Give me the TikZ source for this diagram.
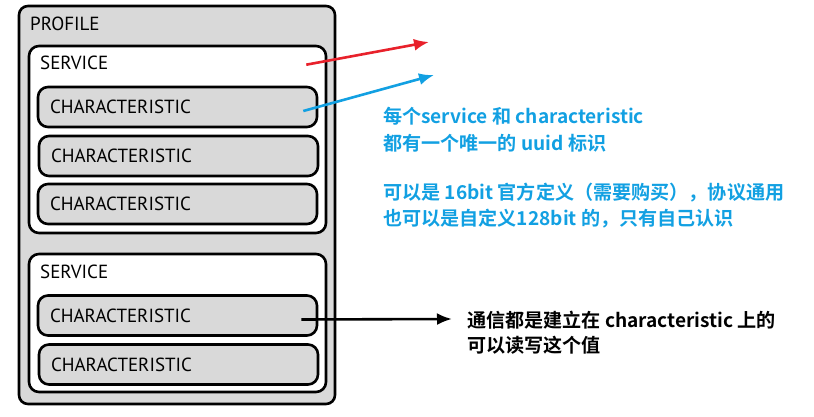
\documentclass[tikz,border=0pt]{standalone}
\usepackage{fontspec}
\setmainfont{PT Sans}
\newfontfamily\cjk{Noto Sans CJK SC}[BoldFont={* Bold}]
\usetikzlibrary{arrows.meta}

\definecolor{boxgray}{HTML}{D9D9D9}
\definecolor{arrowred}{HTML}{E8212B}
\definecolor{noteblue}{HTML}{12A0E2}

\tikzstyle{profilebox} = [
	draw = black,
	fill = boxgray,
	line width = 2.6pt,
	rounded corners = 9pt,
	minimum width = 316pt,
	minimum height = 398pt
	]
\tikzstyle{servicebox} = [
	draw = black,
	fill = white,
	line width = 2.6pt,
	rounded corners = 10pt,
	minimum width = 297pt
	]
\tikzstyle{charbox} = [
	draw = black,
	fill = boxgray,
	line width = 2.6pt,
	rounded corners = 10pt,
	minimum height = 40pt,
	text width = 255pt,
	inner xsep = 12pt,
	align = left
	]
\tikzstyle{note} = [
	anchor = base west,
	inner sep = 0pt,
	font = \cjk\bfseries\fontsize{19.1}{23}\selectfont
	]

\begin{document}
\begin{tikzpicture}[
	x = 1pt, y = -1pt,
	every node/.style = {
	font = \fontsize{19}{22}\selectfont
	},
	every edge/.style = {
	->, >=latex
	}
	]
		\useasboundingbox (0,0) rectangle (814,417);

		\node[profilebox] (profile) at (177,205) {};
		\node[anchor=base west, inner sep=0pt] (profileL) at (30,31) {PROFILE};

		\node[servicebox, minimum height=187pt] (svcA) at (177.5,139.5) {};
		\node[anchor=base west, inner sep=0pt] (svcAL) at (40,70) {SERVICE};
		\node[charbox] (chA1) at (177.5,107) {CHARACTERISTIC};
		\node[charbox] (chA2) at (178.5,156) {CHARACTERISTIC};
		\node[charbox] (chA3) at (177.5,204) {CHARACTERISTIC};

		\node[servicebox, minimum height=138pt] (svcB) at (177.5,323) {};
		\node[anchor=base west, inner sep=0pt] (svcBL) at (40,278) {SERVICE};
		\node[charbox] (chB1) at (177.5,315.5) {CHARACTERISTIC};
		\node[charbox] (chB2) at (178.5,364.5) {CHARACTERISTIC};

		\node[note, text=noteblue] (uuidA) at (383,124) {每个service 和 characteristic};
		\node[note, text=noteblue] (uuidB) at (383,150) {都有一个唯一的 uuid 标识};
		\node[note, text=noteblue] (bitA) at (383,200) {可以是 16bit 官方定义（需要购买），协议通用};
		\node[note, text=noteblue] (bitB) at (383,225) {也可以是自定义128bit 的，只有自己认识};
		\node[note] (rwA) at (467,327) {通信都是建立在 characteristic 上的};
		\node[note] (rwB) at (467,352) {可以读写这个值};

		\coordinate (redTip) at (429,42);
		\coordinate (blueTip) at (434,75);
		\coordinate (blackTip) at (452,319);

		\draw[-{Latex[length=15pt,width=12pt]}, line width=2.6pt, arrowred] ([shift={(-21,20)}]svcA.north east) -- (redTip);
		\draw[-{Latex[length=15pt,width=12pt]}, line width=2.6pt, noteblue] ([shift={(-15,4)}]chA1.east) -- (blueTip);
		\draw[-{Latex[length=15pt,width=12pt]}, line width=2.6pt, black] ([shift={(-17,4)}]chB1.east) -- (blackTip);
\end{tikzpicture}
\end{document}
